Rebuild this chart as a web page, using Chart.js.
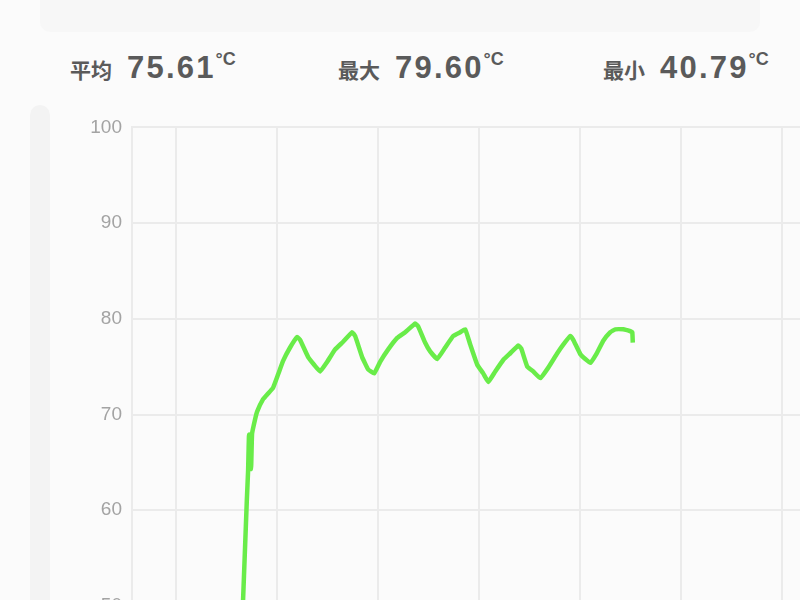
<!DOCTYPE html>
<html>
<head>
<meta charset="utf-8">
<script src="https://cdn.jsdelivr.net/npm/chart.js@4.4.1/dist/chart.umd.min.js"></script>
<style>
  html, body { margin: 0; padding: 0; width: 800px; height: 600px; overflow: hidden; background: #fbfbfb; }
  .topcard { position: absolute; left: 40px; top: -10px; width: 720px; height: 42px; background: #f7f7f7; border-radius: 10px; }
  .sidebar { position: absolute; left: 30px; top: 105px; width: 20px; height: 520px; background: #f3f3f3; border-radius: 10px; }
  .stat { position: absolute; top: 50px; display: flex; align-items: baseline; color: #5a5a5a; font-weight: bold; white-space: nowrap; }
  .stat .lbl { font-family: "Noto Sans CJK SC", sans-serif; font-size: 21px; margin-right: 15px; }
  .stat .val { font-family: "Liberation Sans", Arial, sans-serif; font-size: 31px; letter-spacing: 2.2px; }
  .stat .unit { font-family: "Liberation Sans", Arial, sans-serif; font-size: 18px; position: relative; top: -13px; margin-left: 0px; }
  #wrap { position: absolute; left: 88px; top: 106px; width: 745px; height: 617px; }
</style>
</head>
<body>
<div class="topcard"></div>
<div class="sidebar"></div>
<div class="stat" style="left:70px"><span class="lbl">平均</span><span class="val">75.61</span><span class="unit">°C</span></div>
<div class="stat" style="left:338px"><span class="lbl">最大</span><span class="val">79.60</span><span class="unit">°C</span></div>
<div class="stat" style="left:603px"><span class="lbl">最小</span><span class="val">40.79</span><span class="unit">°C</span></div>
<div id="wrap"><canvas id="chart-temp"></canvas></div>
<script>
// minutes since start of recording
const minutes = [
  16.28, 16.63, 17.00, 17.13, 17.22, 17.42, 17.52, 17.82, 18.02, 18.61,
  19.11, 19.60, 20.10, 20.59, 21.28, 21.98, 22.27, 23.07, 23.66, 24.25,
  24.95, 25.74, 26.53, 27.42, 27.72, 28.41, 29.01, 29.60, 30.19, 30.99,
  31.88, 32.67, 33.66, 33.96, 34.65, 35.14, 35.84, 36.63, 37.42, 38.12,
  38.61, 39.11, 39.80, 40.39, 40.89, 41.58, 42.37, 43.07, 43.86, 44.15,
  44.75, 45.34, 46.04, 46.83, 47.72, 48.31, 49.01, 49.30, 50.00, 50.49,
  50.99, 51.58, 52.27, 52.97, 53.46, 54.25, 54.95, 55.14, 55.19
];
// temperature, °C
const temps = [
  40.79, 50.6, 61.0, 64.2, 67.9, 64.3, 68.0, 69.5, 70.3, 71.6,
  72.2, 72.8, 74.2, 75.6, 77.0, 78.1, 77.8, 76.0, 75.2, 74.5,
  75.5, 76.8, 77.6, 78.6, 78.2, 76.0, 74.7, 74.3, 75.5, 76.8,
  78.0, 78.6, 79.5, 79.2, 77.5, 76.6, 75.8, 77.0, 78.2, 78.6,
  78.9, 77.3, 75.2, 74.3, 73.4, 74.5, 75.7, 76.4, 77.2, 76.9,
  75.0, 74.5, 73.8, 74.9, 76.4, 77.3, 78.2, 77.8, 76.3, 75.8,
  75.4, 76.3, 77.7, 78.6, 78.9, 78.9, 78.7, 78.6, 77.5
];
const yTicks = [40, 50, 60, 70, 80, 90, 100];

const points = minutes.map((m, i) => ({ x: m, y: temps[i] }));
const gridColor = '#ebebeb';

const canvas = document.getElementById('chart-temp');
canvas.width = 745;
canvas.height = 617;

new Chart(canvas.getContext('2d'), {
    type: 'line',
    data: {
        datasets: [{
            label: '温度',
            data: points,
            borderColor: '#69ec49',
            borderWidth: 4.5,
            pointRadius: 0,
            tension: 0.1,
            fill: false
        }]
    },
    options: {
        responsive: false,
        animation: false,
        layout: { padding: { top: 14, right: 0, bottom: 0, left: 0 } },
        plugins: {
            legend: { display: false },
            tooltip: { enabled: false }
        },
        scales: {
            x: {
                type: 'linear',
                min: 5.64,
                max: 75,
                ticks: { display: false, stepSize: 10 },
                grid: { color: gridColor, lineWidth: 2, drawTicks: false },
                border: { display: false }
            },
            y: {
                min: 40,
                max: 100,
                afterBuildTicks: s => { s.ticks = yTicks.map(v => ({ value: v })); },
                afterFit: s => { s.width = 44; },
                ticks: {
                    color: '#a3a3a3',
                    padding: 10,
                    font: { family: 'Liberation Sans, Arial, sans-serif', size: 19 }
                },
                grid: { color: gridColor, lineWidth: 2, drawTicks: false },
                border: { display: true, color: gridColor, width: 2 }
            }
        }
    }
});
</script>
</body>
</html>
